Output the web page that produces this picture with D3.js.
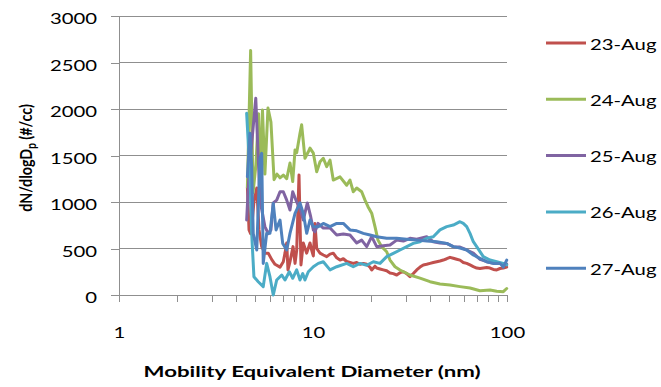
<!DOCTYPE html>
<html>
<head>
<meta charset="utf-8">
<script src="https://cdn.jsdelivr.net/npm/d3@7"></script>
<style>
  body { margin: 0; background: #fff; }
  svg { display: block; font-family: Lato, "Open Sans", sans-serif; }
</style>
</head>
<body>
<svg id="chart" width="661" height="387"></svg>
<script>
// [diameter nm, dN/dlogDp]
var aug23 = [[4.59,1160],[4.68,700],[4.77,660],[4.83,730],[4.96,1000],[5.13,1150],[5.27,700],[5.44,520],[5.65,450],[5.88,450],[6.13,380],[6.37,330],[6.76,300],[7.03,358],[7.17,450],[7.32,560],[7.43,270],[7.61,358],[7.89,520],[8.08,340],[8.24,480],[8.47,1290],[8.67,323],[8.91,560],[9.28,450],[9.65,560],[9.85,480],[10.04,420],[10.24,770],[10.45,500],[10.87,450],[11.3,430],[11.77,412],[12.24,440],[12.72,450],[13.25,400],[13.78,376],[14.33,390],[14.92,360],[15.51,350],[16.13,340],[16.8,350],[17.47,330],[18.17,340],[18.92,330],[19.67,300],[20.07,270],[20.87,310],[21.3,290],[22.15,280],[23.04,270],[23.98,260],[24.94,236],[25.94,230],[27.01,215],[28.09,240],[29.22,250],[30.41,230],[31.62,197],[32.89,230],[34.24,270],[35.61,300],[37.04,323],[38.56,330],[40.1,340],[41.7,350],[43.42,358],[45.13,365],[46.94,376],[48.89,390],[50.84,405],[52.87,395],[55.04,385],[57.24,375],[59.53,350],[61.99,340],[64.46,323],[67.04,305],[69.79,290],[72.58,285],[75.48,290],[78.6,295],[81.73,290],[85,275],[88.51,270],[92.03,285],[95.7,290],[99.65,300]]
var aug24 = [[4.59,1160],[4.77,2630],[4.91,1100],[5.08,1400],[5.24,1950],[5.33,1200],[5.49,1990],[5.65,1300],[5.86,2010],[6.07,1860],[6.3,1240],[6.52,1300],[6.76,1260],[7.03,1290],[7.32,1250],[7.61,1420],[7.86,1220],[8.08,1560],[8.24,1530],[8.57,1740],[8.74,1830],[9.09,1470],[9.46,1540],[9.65,1580],[10.04,1525],[10.45,1325],[10.87,1433],[11.3,1470],[11.77,1380],[12.24,1450],[12.72,1236],[13.78,1270],[14.92,1180],[15.51,1236],[16.13,1110],[16.8,1150],[17.82,1110],[18.54,1020],[19.21,950],[20.07,880],[20.87,735],[21.63,590],[22.6,520],[23.98,465],[24.94,376],[26.47,304],[28.09,269],[31.62,215],[35.61,182],[40.1,143],[45.13,118],[50.84,107],[57.24,90],[64.46,75],[72.58,46],[81.73,54],[88.51,40],[95.7,36],[99.65,70]]
var aug25 = [[4.55,806],[4.68,1310],[5.07,2115],[5.33,1020],[5.65,735],[5.88,660],[6.07,700],[6.24,990],[6.5,1020],[6.76,1110],[7.03,1110],[7.32,1020],[7.61,914],[7.86,1110],[8.24,1000],[8.57,935],[8.91,806],[9.35,990],[9.73,842],[10.04,700],[10.24,680],[10.61,770],[11.3,720],[12.24,720],[13.25,645],[14.33,655],[15.51,645],[16.8,560],[17.82,590],[18.92,520],[20.07,627],[21.3,520],[23.04,530],[24.94,537],[27.01,590],[29.22,580],[31.62,610],[34.24,600],[38.56,627],[41.7,573],[45.13,560],[48.89,555],[52.87,520],[57.24,515],[61.99,484],[67.04,450],[72.58,384],[78.6,358],[85,340],[92.03,340],[99.65,333]]
var aug26 = [[4.55,1953],[4.73,1310],[4.83,660],[4.96,197],[5.22,143],[5.54,90],[5.77,340],[6.0,197],[6.24,0],[6.5,161],[6.9,215],[7.17,161],[7.55,250],[7.86,180],[8.24,270],[8.57,161],[8.85,230],[9.09,161],[9.46,250],[10.04,304],[10.65,340],[11.3,358],[12.24,270],[13.25,304],[14.92,340],[16.13,304],[17.47,340],[18.92,320],[20.46,358],[22.15,340],[23.98,412],[25.94,448],[28.09,484],[30.41,520],[32.89,555],[35.61,573],[38.56,610],[41.7,627],[45.13,700],[48.89,735],[52.87,752],[57.24,788],[59.53,770],[61.99,735],[64.46,663],[67.04,573],[69.79,520],[72.58,466],[75.48,412],[81.73,376],[88.51,358],[95.7,340],[99.65,323]]
var aug27 = [[4.59,1272],[4.73,1738],[4.83,1380],[4.92,660],[5.13,484],[5.33,1470],[5.44,1523],[5.54,340],[5.77,663],[6.0,663],[6.24,985],[6.45,700],[6.76,806],[6.98,555],[7.32,484],[7.61,663],[8.08,878],[8.57,990],[8.91,878],[9.28,663],[9.65,806],[10.04,735],[10.65,735],[11.3,770],[12.24,735],[13.25,770],[14.33,770],[15.51,700],[16.8,690],[18.17,663],[19.67,645],[21.3,627],[23.98,610],[27.01,610],[30.41,600],[34.24,590],[38.56,580],[43.42,573],[48.89,555],[52.87,520],[57.24,505],[61.99,484],[67.04,430],[72.58,394],[78.6,358],[85,340],[92.03,340],[95.7,300],[99.65,376]]

var seriesNames = ['23-Aug', '24-Aug', '25-Aug', '26-Aug', '27-Aug']
var seriesData = [aug23, aug24, aug25, aug26, aug27]
var seriesColors = ['#C0504D', '#9BBB59', '#8064A2', '#4BACC6', '#4F81BD']

var yTicks = [0, 500, 1000, 1500, 2000, 2500, 3000]
var xTicks = [1, 2, 3, 4, 5, 6, 7, 8, 9, 10, 20, 30, 40, 50, 60, 70, 80, 90, 100]
var xLabels = [1, 10, 100]

var svg = d3.select('#chart')
var stretch = 'scale(1.27,1)'
var gridColor = '#8f8f8f'

var x = d3.scaleLog().domain([1, 100]).range([119, 507])
var y = d3.scaleLinear().domain([0, 3000]).range([295, 16])

svg.append('g').selectAll('line')
    .data(yTicks).enter()
    .append('line')
    .attr('x1', 119).attr('x2', 507)
    .attr('y1', function(d){ return y(d) }).attr('y2', function(d){ return y(d) })
    .attr('stroke', gridColor).attr('stroke-width', 1)
    .attr('shape-rendering', 'crispEdges')

var yAxis = svg.append('g')
    .attr('transform', 'translate(119,0)')
    .call(d3.axisLeft(y).tickValues(yTicks).tickSize(8).tickSizeOuter(0).tickFormat(d3.format('d')))
yAxis.selectAll('path, line').attr('stroke', gridColor).attr('shape-rendering', 'crispEdges')
yAxis.selectAll('text')
    .attr('x', 0).attr('dy', null).attr('y', 0)
    .attr('transform', 'translate(-22,7.5) ' + stretch)
    .attr('font-size', 16).attr('font-family', 'Lato').attr('fill', '#000')

var xAxis = svg.append('g')
    .attr('transform', 'translate(0,295)')
    .call(d3.axisBottom(x).tickValues(xTicks).tickSize(7).tickSizeOuter(0)
      .tickFormat(function(d){ return xLabels.indexOf(d) > -1 ? d : '' }))
xAxis.selectAll('path, line').attr('stroke', gridColor).attr('shape-rendering', 'crispEdges')
xAxis.selectAll('text')
    .attr('y', 0).attr('dy', null)
    .attr('transform', 'translate(0,43) ' + stretch)
    .attr('font-size', 16).attr('font-family', 'Lato').attr('fill', '#000')

var line = d3.line()
    .x(function(d){ return x(d[0]) })
    .y(function(d){ return y(d[1]) })

svg.append('g').selectAll('path')
    .data(seriesData).enter()
    .append('path')
    .attr('d', line)
    .attr('fill', 'none')
    .attr('stroke', function(d, i){ return seriesColors[i] })
    .attr('stroke-width', 3)
    .attr('stroke-linejoin', 'round')
    .attr('stroke-linecap', 'round')

// legend
var legend = svg.append('g').selectAll('g')
    .data(seriesNames).enter()
    .append('g')
    .attr('transform', function(d, i){ return 'translate(546,' + (43 + i * 56.3) + ')' })
legend.append('line')
    .attr('x1', 0).attr('x2', 40).attr('y1', 0).attr('y2', 0)
    .attr('stroke', function(d, i){ return seriesColors[i] })
    .attr('stroke-width', 3)
legend.append('text')
    .attr('transform', 'translate(44,6.5) ' + stretch)
    .attr('font-size', 16).attr('fill', '#000')
    .text(function(d){ return d })

svg.append('text')
    .attr('x', 312).attr('y', 377)
    .attr('text-anchor', 'middle')
    .attr('textLength', 337).attr('lengthAdjust', 'spacingAndGlyphs')
    .attr('font-size', 16).attr('font-weight', 'bold').attr('fill', '#000')
    .text('Mobility Equivalent Diameter (nm)')

var yTitle = svg.append('text')
    .attr('transform', 'translate(32,158) scale(1.25,1) rotate(-90)')
    .attr('text-anchor', 'middle')
    .attr('font-size', 14.3).attr('font-weight', 'bold').attr('fill', '#000')
yTitle.append('tspan').text('dN/dlogD')
yTitle.append('tspan').attr('font-size', 10).attr('dy', 3.5).text('p')
yTitle.append('tspan').attr('dy', -3.5).text(' (#/cc)')
</script>
</body>
</html>
